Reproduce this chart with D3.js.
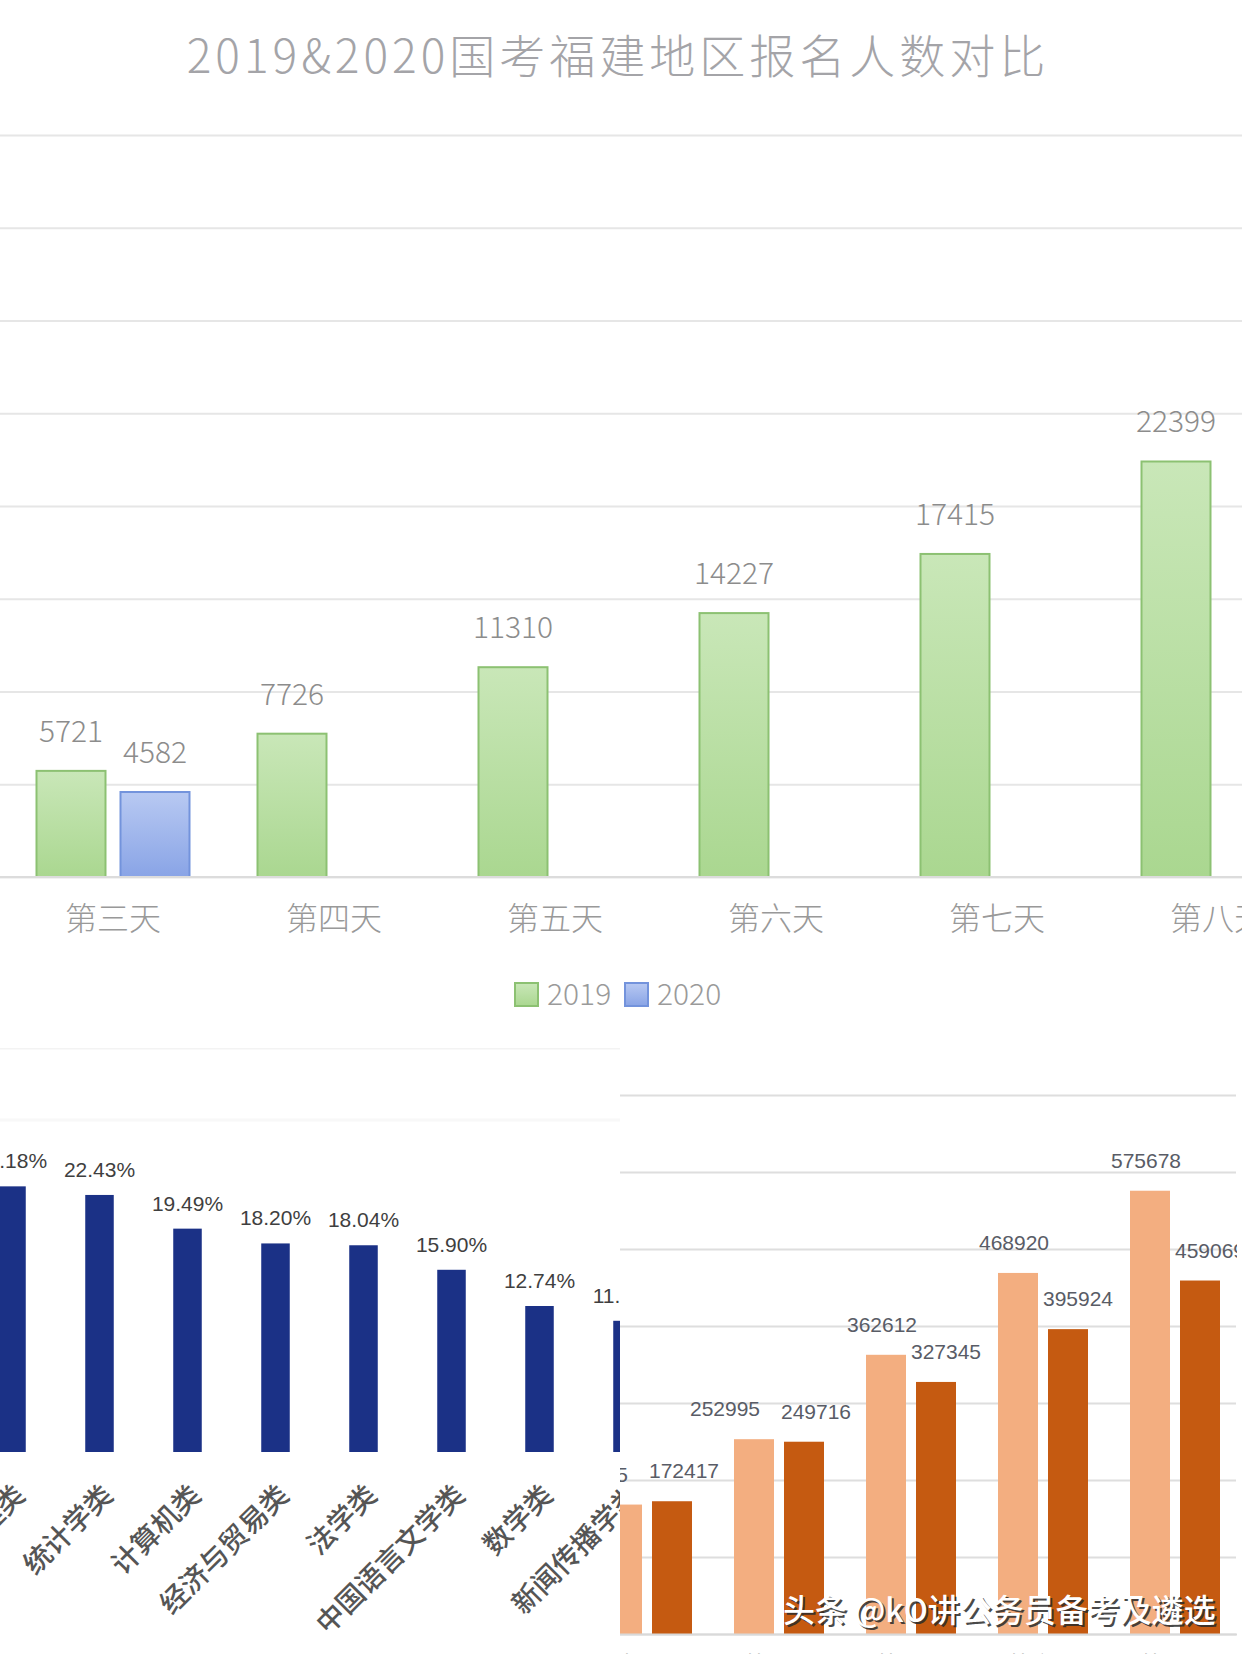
<!DOCTYPE html>
<html><head><meta charset="utf-8">
<script src="https://cdn.jsdelivr.net/npm/d3@7"></script>
<style>
html,body{margin:0;padding:0;background:#fff;}
svg{display:block;}
</style></head><body>
<svg id="c" width="1242" height="1654"></svg>
<script>
// ---------- data: top chart (福建地区报名人数) ----------
const days = ["第三天","第四天","第五天","第六天","第七天","第八天"];
const series = ["2019","2020"];
const reg2019 = [5721, 7726, 11310, 14227, 17415, 22399];
const reg2020 = [4582, null, null, null, null, null];
const topTicks = [0,5000,10000,15000,20000,25000,30000,35000,40000];
const topTitle = "2019&2020国考福建地区报名人数对比";

// ---------- data: bottom-left chart (专业类占比) ----------
const majors = ["工商管理类","统计学类","计算机类","经济与贸易类","法学类","中国语言文学类","数学类","新闻传播学类"];
const majorPct = [23.18, 22.43, 19.49, 18.20, 18.04, 15.90, 12.74, 11.45];

// ---------- data: bottom-right chart (全国报名人数) ----------
const natDays = ["第三天","第四天","第五天","第六天","第七天"];
const natSeries = ["2019","2020"];
const nat2019 = [168105, 252995, 362612, 468920, 575678];
const nat2020 = [172417, 249716, 327345, 395924, 459069];
const natTicks = [0,100000,200000,300000,400000,500000,600000,700000];
const watermark = "头条 @kO讲公务员备考及遴选";

const CJK = "'Noto Sans CJK SC','Noto Sans',sans-serif";
const svg = d3.select("#c");
svg.append("rect").attr("width",1242).attr("height",1654).attr("fill","#fff");
const defs = svg.append("defs");
function vgrad(id,c1,c2){
  const g = defs.append("linearGradient").attr("id",id).attr("x1",0).attr("y1",0).attr("x2",0).attr("y2",1);
  g.append("stop").attr("offset","0%").attr("stop-color",c1);
  g.append("stop").attr("offset","100%").attr("stop-color",c2);
}
vgrad("gGreen","#c9e7b8","#aad790");
vgrad("gBlue","#b8c9f2","#89a4e6");
defs.append("clipPath").attr("id","clipTop").append("rect").attr("x",0).attr("y",0).attr("width",1242).attr("height",1045);
defs.append("clipPath").attr("id","clipBL").append("rect").attr("x",0).attr("y",1048).attr("width",620).attr("height",606);
defs.append("clipPath").attr("id","clipBR").append("rect").attr("x",620).attr("y",1050).attr("width",617).attr("height",604);

// ================= TOP CHART =================
const gt = svg.append("g").attr("clip-path","url(#clipTop)");
gt.append("text").attr("x",618).attr("y",73).attr("text-anchor","middle")
  .attr("font-family",CJK).attr("font-size",46).attr("font-weight",300)
  .attr("letter-spacing",4).attr("fill","#a4a4a8").text(topTitle);

const yT = d3.scaleLinear().domain([0,40000]).range([877,135]);
const xT = d3.scaleBand().domain(days).range([2.5,1328.5]);
const xT1 = d3.scaleBand().domain(series).range([34,187]).paddingInner(15/84);

gt.append("g").call(d3.axisLeft(yT).tickValues(topTicks).tickSize(-1242).tickFormat(""))
  .call(g=>g.select(".domain").remove())
  .call(g=>g.selectAll("line").attr("stroke","#e6e6e6").attr("stroke-width",2));

const rowsT = days.map((d,i)=>({day:d, vals:[{s:"2019",v:reg2019[i]},{s:"2020",v:reg2020[i]}].filter(o=>o.v!=null)}));
const grpT = gt.selectAll("g.day").data(rowsT).join("g").attr("class","day")
  .attr("transform",d=>`translate(${xT(d.day)},0)`);
grpT.selectAll("rect").data(d=>d.vals).join("rect")
  .attr("x",d=>xT1(d.s)).attr("width",xT1.bandwidth())
  .attr("y",d=>yT(d.v)).attr("height",d=>yT(0)-yT(d.v))
  .attr("fill",d=>d.s==="2019"?"url(#gGreen)":"url(#gBlue)")
  .attr("stroke",d=>d.s==="2019"?"#8cc172":"#7393dc").attr("stroke-width",2);
grpT.selectAll("text.v").data(d=>d.vals).join("text").attr("class","v")
  .attr("x",d=>xT1(d.s)+xT1.bandwidth()/2).attr("y",d=>yT(d.v)-29)
  .attr("text-anchor","middle").attr("font-family",CJK).attr("font-size",30).attr("font-weight",300)
  .attr("fill","#8c8c8c").text(d=>d.v);

gt.append("g").attr("transform","translate(0,877)")
  .call(d3.axisBottom(xT).tickSize(0))
  .call(g=>g.select(".domain").attr("stroke","#dcdcdc").attr("stroke-width",2).attr("d","M0,0H1242"))
  .call(g=>g.selectAll("text").attr("y",53).attr("dy",null)
     .attr("font-family",CJK).attr("font-size",32).attr("font-weight",300).attr("fill","#999"));

// legend
const leg = gt.append("g");
series.forEach((s,i)=>{
  const x0 = 515 + i*110;
  leg.append("rect").attr("x",x0).attr("y",983).attr("width",23).attr("height",23)
    .attr("fill",i===0?"url(#gGreen)":"url(#gBlue)").attr("stroke",i===0?"#8cc172":"#7393dc").attr("stroke-width",2);
  leg.append("text").attr("x",x0+32).attr("y",1004.5).attr("font-family",CJK).attr("font-size",30)
    .attr("font-weight",300).attr("fill","#9a9a9a").text(s);
});

// ================= BOTTOM-LEFT CHART =================
const gl = svg.append("g").attr("clip-path","url(#clipBL)");
gl.append("line").attr("x1",0).attr("x2",620).attr("y1",1048).attr("y2",1048).attr("stroke","#f3f3f3").attr("stroke-width",3);
gl.append("line").attr("x1",0).attr("x2",620).attr("y1",1120).attr("y2",1120).attr("stroke","#f8f8f8").attr("stroke-width",3);
const xB = d3.scaleBand().domain(majors).range([-32.5,671.5]).paddingInner(0.676).paddingOuter(0.338);
const yB = d3.scaleLinear().domain([0,25]).range([1452,1452-25*11.46]);
gl.selectAll("rect.b").data(majors).join("rect").attr("class","b")
  .attr("x",d=>xB(d)).attr("width",xB.bandwidth())
  .attr("y",(d,i)=>yB(majorPct[i])).attr("height",(d,i)=>yB(0)-yB(majorPct[i]))
  .attr("fill","#1b3186");
gl.selectAll("text.p").data(majors).join("text").attr("class","p")
  .attr("x",d=>xB(d)+xB.bandwidth()/2).attr("y",(d,i)=>yB(majorPct[i])-18)
  .attr("text-anchor","middle").attr("font-family","'Liberation Sans',Arial,sans-serif")
  .attr("font-size",21).attr("fill","#3f3f3f").text((d,i)=>majorPct[i].toFixed(2)+"%");
gl.append("g").attr("transform","translate(0,1452)")
  .call(d3.axisBottom(xB).tickSize(0))
  .call(g=>g.select(".domain").remove())
  .call(g=>g.selectAll("text").attr("x",0).attr("y",0).attr("dy",null)
     .attr("transform","translate(15,45) rotate(-45)").attr("text-anchor","end")
     .attr("font-family",CJK).attr("font-size",28).attr("font-weight",500).attr("fill","#555"));

// ================= BOTTOM-RIGHT CHART =================
const gr = svg.append("g").attr("clip-path","url(#clipBR)");
gr.append("rect").attr("x",620).attr("y",1050).attr("width",622).attr("height",604).attr("fill","#fff");
const xO = d3.scaleBand().domain(natDays).range([581,1241]);
const xO1 = d3.scaleBand().domain(natSeries).range([21,111]).paddingInner(0.2);
const yO = d3.scaleLinear().domain([0,700000]).range([1634,1095]);
gr.append("g").attr("transform","translate(620,0)")
  .call(d3.axisLeft(yO).tickValues(natTicks).tickSize(-616).tickFormat(""))
  .call(g=>g.select(".domain").remove())
  .call(g=>g.selectAll("line").attr("stroke","#dedede").attr("stroke-width",2));
const rowsO = natDays.map((d,i)=>({day:d, vals:[{s:"2019",v:nat2019[i]},{s:"2020",v:nat2020[i]}]}));
const grpO = gr.selectAll("g.nd").data(rowsO).join("g").attr("class","nd")
  .attr("transform",d=>`translate(${xO(d.day)},0)`);
grpO.selectAll("rect").data(d=>d.vals).join("rect")
  .attr("x",d=>xO1(d.s)).attr("width",xO1.bandwidth())
  .attr("y",d=>yO(d.v)).attr("height",d=>yO(0)-yO(d.v))
  .attr("fill",d=>d.s==="2019"?"#f3ae80":"#c55a11");
// labels: nudge apart horizontally when the pair would collide
grpO.selectAll("text").data(d=>{
    const a = d.vals.map(o=>Object.assign({}, o, {ty: yO(o.v)-23}));
    const close = Math.abs(a[0].ty - a[1].ty) < 24;
    a[0].dx = close ? -29 : -4;
    a[1].dx = close ? 12 : 10;
    return a;
  }).join("text")
  .attr("x",d=>xO1(d.s)+xO1.bandwidth()/2+d.dx).attr("y",d=>d.ty)
  .attr("text-anchor","middle").attr("font-family","'Liberation Sans',Arial,sans-serif")
  .attr("font-size",21).attr("fill","#595c66").text(d=>d.v);
gr.append("g").attr("transform","translate(0,1634)")
  .call(d3.axisBottom(xO).tickSize(0))
  .call(g=>g.select(".domain").attr("stroke","#d9d9d9").attr("stroke-width",2))
  .call(g=>g.selectAll("text").attr("y",39).attr("dy",null)
     .attr("font-family",CJK).attr("font-size",23).attr("fill","#7a7a7a"));

// watermark
const wm = svg.append("g").attr("font-family",CJK).attr("font-size",32).attr("font-weight",500);
wm.append("text").attr("x",785).attr("y",1624).attr("fill","#2a2a2a").attr("opacity",0.85).text(watermark);
wm.append("text").attr("x",783).attr("y",1622).attr("fill","#ffffff").text(watermark);
</script>
</body></html>
